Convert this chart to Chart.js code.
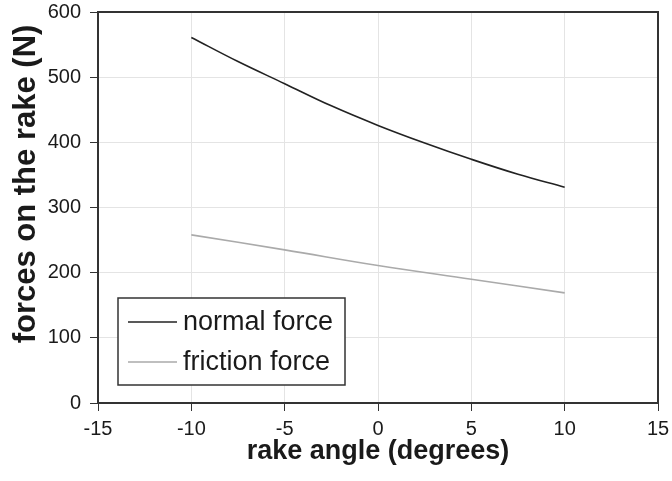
<!DOCTYPE html>
<html>
<head>
<meta charset="utf-8">
<script src="https://cdn.jsdelivr.net/npm/chart.js@4.4.1/dist/chart.umd.min.js"></script>
<style>
  html, body { margin: 0; padding: 0; background: #fff; }
  #wrap { width: 672px; height: 481px; }
</style>
</head>
<body>
<div id="wrap"><canvas id="forceChart"></canvas></div>
<script>
// rake angle (degrees)
const angles = [-10, -7.5, -5, -2.5, 0, 2.5, 5, 7.5, 10];
const normalForce = [561, 524, 490, 456, 426, 399, 374, 351, 331];
const frictionAngles = [-10, -5, 0, 5, 10];
const frictionForce = [258, 235, 211, 190, 169];

const xTitle = 'rake angle (degrees)';
const yTitle = 'forces on the rake (N)';
const FONT = '"Liberation Sans", Arial, sans-serif';

// titles, frame and the boxed legend inside the plot
const decorations = {
    id: 'decorations',
    afterDraw(chart) {
        const ctx = chart.ctx;
        const a = chart.chartArea;
        ctx.save();

        // frame around the plot
        ctx.strokeStyle = '#333';
        ctx.lineWidth = 2;
        ctx.strokeRect(a.left, a.top, a.right - a.left, a.bottom - a.top);

        // axis titles
        ctx.fillStyle = '#1a1a1a';
        ctx.textAlign = 'center';
        ctx.textBaseline = 'middle';
        ctx.font = 'bold 27px ' + FONT;
        ctx.fillText(xTitle, 378, 452);
        ctx.translate(26, 184);
        ctx.rotate(-Math.PI / 2);
        ctx.font = 'bold 31px ' + FONT;
        ctx.fillText(yTitle, 0, 0);
        ctx.setTransform(1, 0, 0, 1, 0, 0);

        // legend box
        const bx = 118, by = 298, bw = 227, bh = 87;
        ctx.fillStyle = '#fff';
        ctx.fillRect(bx, by, bw, bh);
        ctx.strokeStyle = '#333';
        ctx.lineWidth = 1.5;
        ctx.strokeRect(bx, by, bw, bh);
        ctx.font = '27px ' + FONT;
        ctx.textAlign = 'left';
        chart.data.datasets.forEach((ds, i) => {
            const y = by + 24 + i * 40;
            ctx.strokeStyle = ds.borderColor;
            ctx.lineWidth = 1.5;
            ctx.beginPath();
            ctx.moveTo(bx + 10, y);
            ctx.lineTo(bx + 59, y);
            ctx.stroke();
            ctx.fillStyle = '#1a1a1a';
            ctx.fillText(ds.label, bx + 65, y + 1);
        });
        ctx.restore();
    }
};

new Chart(document.getElementById('forceChart'), {
    type: 'line',
    data: {
        datasets: [{
            label: 'normal force',
            data: angles.map((x, i) => ({ x, y: normalForce[i] })),
            borderColor: '#222',
            borderWidth: 1.6,
            pointRadius: 0,
            tension: 0.4
        },
        {
            label: 'friction force',
            data: frictionAngles.map((x, i) => ({ x, y: frictionForce[i] })),
            borderColor: '#aaa',
            borderWidth: 1.6,
            pointRadius: 0,
            tension: 0.4
        }]
    },
    options: {
        responsive: true,
        maintainAspectRatio: false,
        animation: false,
        layout: {
            padding: 0
        },
        plugins: {
            legend: { display: false },
            tooltip: { enabled: false }
        },
        scales: {
            x: {
                type: 'linear',
                min: -15,
                max: 15,
                afterFit: scale => {
                    scale.height = 78;
                    scale.paddingLeft = 0;
                    scale.paddingRight = 14;
                },
                ticks: {
                    stepSize: 5,
                    color: '#1a1a1a',
                    padding: 6,
                    font: { family: FONT, size: 20 }
                },
                grid: {
                    color: '#e4e4e4',
                    tickColor: '#333',
                    tickLength: 8
                },
                border: { color: '#333', width: 2 }
            },
            y: {
                min: 0,
                max: 600,
                afterFit: scale => {
                    scale.width = 98;
                    scale.paddingTop = 12;
                    scale.paddingBottom = 0;
                },
                ticks: {
                    stepSize: 100,
                    color: '#1a1a1a',
                    padding: 9,
                    font: { family: FONT, size: 20 }
                },
                grid: {
                    color: '#e4e4e4',
                    tickColor: '#333',
                    tickLength: 8
                },
                border: { color: '#333', width: 2 }
            }
        }
    },
    plugins: [decorations]
});
</script>
</body>
</html>
